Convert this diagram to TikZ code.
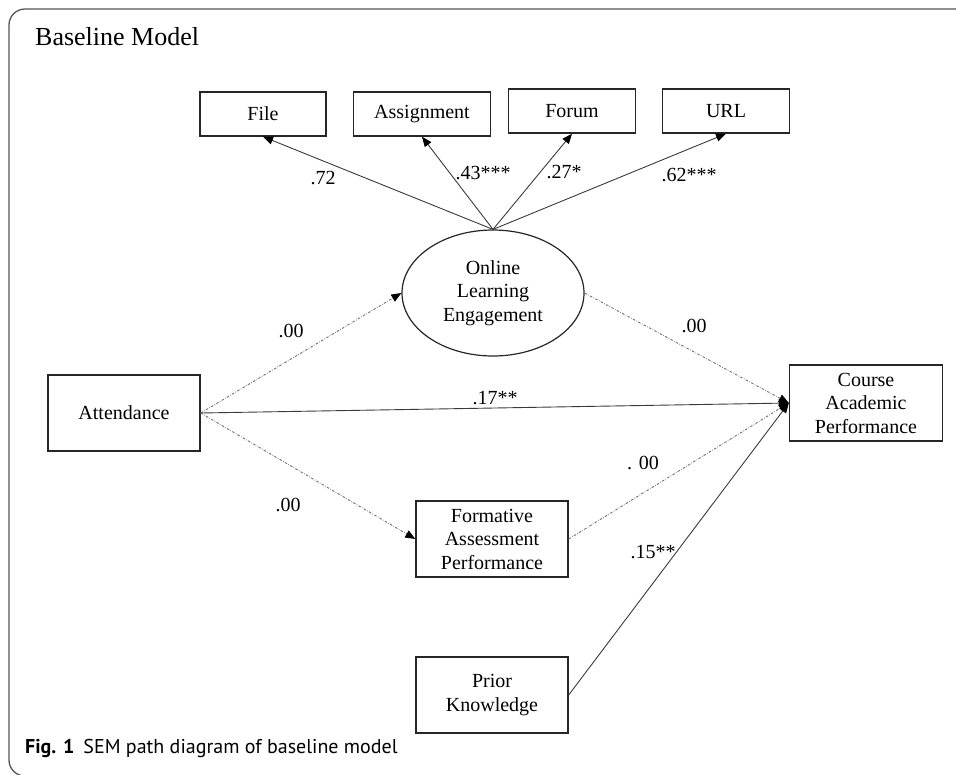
\documentclass[tikz,border=0pt]{standalone}
\usepackage{fontspec}
\setmainfont{Liberation Serif}
\newfontfamily\capfont{PT Sans}
\usetikzlibrary{arrows.meta,shapes.geometric}
\definecolor{framec}{HTML}{555555}
\definecolor{linec}{HTML}{3A3A3A}
\definecolor{dashc}{HTML}{707070}
\tikzset{
  box/.style={draw=black!85, line width=1.4pt, fill=white, inner sep=0pt, align=center, font=\fontsize{20}{23.5}\selectfont},
  tipend/.style={-{Triangle[length=10pt,width=8pt,fill=black,color=black]}},
  solidln/.style={draw=linec, line width=0.9pt, tipend},
  dashln/.style={draw=dashc, line width=0.9pt, dash pattern=on 2.5pt off 1.5pt on 0.6pt off 1.5pt, tipend},
  lab/.style={font=\fontsize{20}{24}\selectfont, inner sep=0pt},
}
\begin{document}
\begin{tikzpicture}[x=1pt,y=-1pt]
\useasboundingbox (0,0) rectangle (956,774);
\draw[framec, line width=1.3pt, rounded corners=16pt] (960,9) -- (9,9) -- (9,776) -- (60,776);
\node[anchor=west, inner sep=0pt, font=\fontsize{26}{30}\selectfont] (title) at (35,37) {Baseline Model};
% nodes
\node[box, minimum width=126pt, minimum height=44pt] (file) at (263,114) {File};
\node[box, minimum width=137pt, minimum height=44pt] (asg) at (422,114) {Assignment};
\node[box, minimum width=127pt, minimum height=44pt] (forum) at (572,111) {Forum};
\node[box, minimum width=127pt, minimum height=44pt] (url) at (726,111) {URL};
\node[box, ellipse, line width=1.2pt, minimum width=182pt, minimum height=126pt] (ole) at (493,293) {Online\\Learning\\Engagement};
\node[box, minimum width=152pt, minimum height=76pt] (att) at (124,413) {Attendance};
\node[box, minimum width=153pt, minimum height=76pt] (cap) at (866,403) {Course\\Academic\\Performance};
\node[box, minimum width=152pt, minimum height=76pt] (fap) at (492,539) {Formative\\Assessment\\Performance};
\node[box, minimum width=152pt, minimum height=76pt] (pk) at (492,695) {Prior\\Knowledge};
% connectors
\draw[solidln] (ole.north) -- (file.south);
\draw[solidln] (ole.north) -- (asg.south);
\draw[solidln] (ole.north) -- (forum.south);
\draw[solidln] (ole.north) -- (url.south);
\draw[dashln] (att.east) -- (ole.west);
\draw[dashln] (ole.east) -- (cap.west);
\draw[solidln] (att.east) -- (cap.west);
\draw[dashln] (att.east) -- (fap.west);
\draw[dashln] (fap.east) -- (cap.west);
\draw[solidln] (pk.east) -- (cap.west);
% labels
\node[lab] (l1) at (323,178) {.72};
\node[lab] (l2) at (483,173) {.43***};
\node[lab] (l3) at (564,172) {.27*};
\node[lab] (l4) at (689,175) {.62***};
\node[lab] (l5) at (291,331) {.00};
\node[lab] (l6) at (694,326) {.00};
\node[lab] (l7) at (495,398) {.17**};
\node[lab] (l8) at (288,505) {.00};
\node[lab] (l9) at (643,463) {. 00};
\node[lab] (l10) at (653,552) {.15**};
% caption
\node[anchor=west, inner sep=0pt, font=\capfont\fontsize{20}{23}\selectfont] (caption) at (25,748) {\textbf{Fig. 1}\hspace{0.45em}SEM path diagram of baseline model};
\end{tikzpicture}
\end{document}
